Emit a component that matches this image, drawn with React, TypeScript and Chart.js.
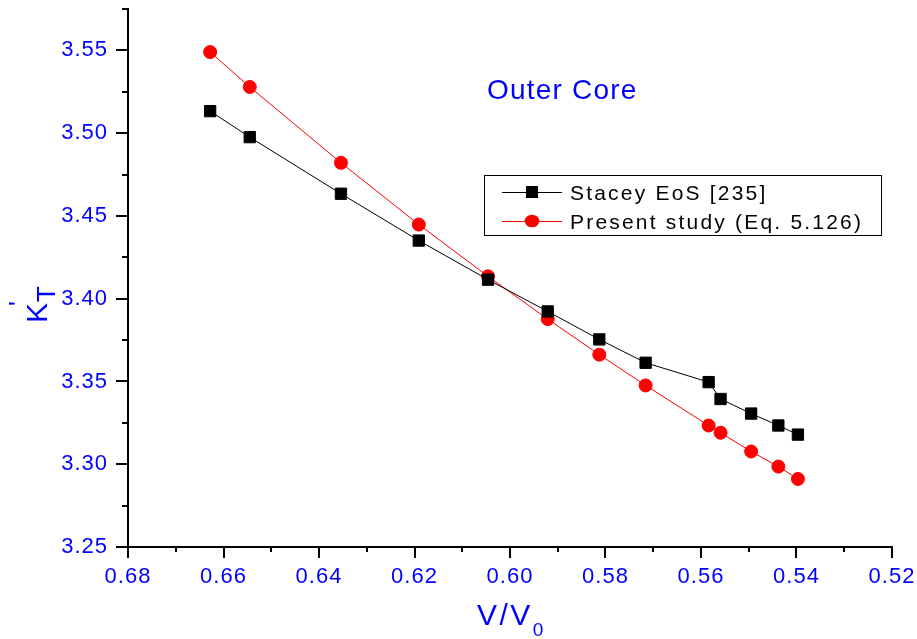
import React, { useEffect, useRef } from 'react';
import { Chart, registerables } from 'chart.js';

Chart.register(...registerables);

// ---- data ----
const X_VALUES = [0.6628, 0.6545, 0.6354, 0.6191, 0.6046, 0.5921, 0.5813, 0.5716, 0.5584, 0.5559, 0.5495, 0.5438, 0.5397];
const STACEY_EOS = [3.5133, 3.4976, 3.4634, 3.4351, 3.4115, 3.3923, 3.3754, 3.3613, 3.3496, 3.3394, 3.3306, 3.3234, 3.3179];
const PRESENT_STUDY = [3.549, 3.5279, 3.4821, 3.4448, 3.4135, 3.3877, 3.3662, 3.3476, 3.3234, 3.319, 3.3077, 3.2986, 3.2911];
const SERIES_LABELS = ['Stacey EoS [235]', 'Present study (Eq. 5.126)'];
const X_TICKS = [0.68, 0.66, 0.64, 0.62, 0.6, 0.58, 0.56, 0.54, 0.52];
const Y_TICKS = [3.25, 3.3, 3.35, 3.4, 3.45, 3.5, 3.55];
const X_MIN = 0.52;
const X_MAX = 0.68;
const Y_MIN = 3.25;
const Y_MAX = 3.575;
const ANNOTATION_TEXT = 'Outer Core';
const X_TITLE = 'V/V';
const X_TITLE_SUB = '0';
const Y_TITLE = 'K';
const Y_TITLE_SUB = 'T';
const Y_TITLE_SUP = "'";

const FONT = "'Liberation Sans', Arial, sans-serif";
const BLUE = '#0000ff';

const decorPlugin = {
  id: 'decor',
  beforeDraw(chart: any) {
    const ctx = chart.ctx;
    ctx.letterSpacing = '1px';
  },
  afterDraw(chart: any) {
    const ctx = chart.ctx as CanvasRenderingContext2D;
    const xs = chart.scales.x;
    const ys = chart.scales.y;
    const area = chart.chartArea;
    ctx.save();
    // tick marks (major + minor)
    ctx.strokeStyle = '#000';
    ctx.lineWidth = 2;
    ctx.beginPath();
    const nx = Math.round((X_MAX - X_MIN) / 0.01);
    for (let i = 0; i <= nx; i++) {
      const v = X_MIN + i * 0.01;
      const px = Math.round(xs.getPixelForValue(v));
      const len = i % 2 === 0 ? 11 : 5;
      ctx.moveTo(px, area.bottom);
      ctx.lineTo(px, area.bottom + len);
    }
    const ny = Math.round((Y_MAX - Y_MIN) / 0.025);
    for (let i = 0; i <= ny; i++) {
      const v = Y_MIN + i * 0.025;
      const py = Math.round(ys.getPixelForValue(v));
      const len = i % 2 === 0 ? 12 : 6;
      ctx.moveTo(area.left - len, py);
      ctx.lineTo(area.left, py);
    }
    ctx.stroke();

    // annotation
    ctx.fillStyle = BLUE;
    ctx.textBaseline = 'alphabetic';
    ctx.textAlign = 'left';
    ctx.font = `28px ${FONT}`;
    (ctx as any).letterSpacing = '1.2px';
    ctx.fillText(ANNOTATION_TEXT, 487, 99);

    // x title
    ctx.font = `30px ${FONT}`;
    (ctx as any).letterSpacing = '2.5px';
    ctx.fillText(X_TITLE, 477, 625);
    const w = ctx.measureText(X_TITLE).width;
    ctx.font = `19px ${FONT}`;
    (ctx as any).letterSpacing = '0px';
    ctx.fillText(X_TITLE_SUB, 477 + w, 636);

    // y title (rotated)
    ctx.save();
    ctx.rotate(-Math.PI / 2);
    ctx.font = `30px ${FONT}`;
    ctx.fillText(Y_TITLE, -323, 47);
    ctx.font = `26px ${FONT}`;
    ctx.fillText(Y_TITLE_SUB, -302, 55);
    ctx.fillText(Y_TITLE_SUP, -306, 27);
    ctx.restore();

    // legend
    const lx = 484, ly = 175, lw = 397, lh = 60;
    ctx.strokeStyle = '#000';
    ctx.lineWidth = 1;
    ctx.strokeRect(lx + 0.5, ly + 0.5, lw, lh);
    const rows = [192, 221];
    chart.data.datasets.forEach((ds: any, i: number) => {
      const cy = rows[i];
      ctx.strokeStyle = ds.borderColor;
      ctx.lineWidth = 1;
      ctx.beginPath();
      ctx.moveTo(502, cy + 0.5);
      ctx.lineTo(562, cy + 0.5);
      ctx.stroke();
      ctx.fillStyle = ds.pointBackgroundColor;
      if (ds.pointStyle === 'rect') {
        ctx.fillRect(526, cy - 6, 12, 12);
      } else {
        ctx.beginPath();
        ctx.ellipse(532, cy, 7.3, 6.3, 0, 0, Math.PI * 2);
        ctx.fill();
      }
      ctx.fillStyle = '#000';
      ctx.font = `21px ${FONT}`;
      (ctx as any).letterSpacing = '2.2px';
      ctx.fillText(ds.label, 570, cy + 7.5);
    });
    ctx.restore();
  },
};

export default function App() {
  const ref = useRef<HTMLCanvasElement | null>(null);
  useEffect(() => {
    if (!ref.current) return;
    const chart = new Chart(ref.current, {
      type: 'line',
      data: {
        datasets: [
          {
            label: SERIES_LABELS[0],
            data: X_VALUES.map((x, i) => ({ x, y: STACEY_EOS[i] })),
            borderColor: '#000000',
            backgroundColor: '#000000',
            pointBackgroundColor: '#000000',
            pointBorderColor: '#000000',
            pointStyle: 'rect',
            pointRadius: 8,
            pointBorderWidth: 1,
            borderWidth: 1,
            tension: 0,
          },
          {
            label: SERIES_LABELS[1],
            data: X_VALUES.map((x, i) => ({ x, y: PRESENT_STUDY[i] })),
            borderColor: '#ff0000',
            backgroundColor: '#ff0000',
            pointBackgroundColor: '#ff0000',
            pointBorderColor: '#ff0000',
            pointStyle: 'circle',
            pointRadius: 6.5,
            pointBorderWidth: 1,
            borderWidth: 1,
            tension: 0,
          },
        ],
      },
      options: {
        animation: false,
        responsive: false,
        devicePixelRatio: 1,
        layout: { padding: { left: 0, top: 9, right: 25, bottom: 0 } },
        plugins: { legend: { display: false }, tooltip: { enabled: false } },
        scales: {
          x: {
            type: 'linear',
            reverse: true,
            min: X_MIN,
            max: X_MAX,
            afterBuildTicks: (scale: any) => {
              scale.ticks = X_TICKS.map((v) => ({ value: v }));
            },
            afterFit: (scale: any) => {
              scale.height = 92;
              scale.paddingLeft = 0;
              scale.paddingRight = 0;
            },
            grid: { display: false, drawTicks: true, tickLength: 11 },
            border: { display: true, color: '#000', width: 2 },
            ticks: {
              autoSkip: false,
              maxRotation: 0,
              padding: 6,
              color: BLUE,
              font: { family: FONT, size: 22 },
              callback: (v: any) => Number(v).toFixed(2),
            },
          },
          y: {
            type: 'linear',
            min: Y_MIN,
            max: Y_MAX,
            afterBuildTicks: (scale: any) => {
              scale.ticks = Y_TICKS.map((v) => ({ value: v }));
            },
            afterFit: (scale: any) => {
              scale.width = 128;
              scale.paddingTop = 0;
              scale.paddingBottom = 0;
            },
            grid: { display: false, drawTicks: true, tickLength: 12 },
            border: { display: true, color: '#000', width: 2 },
            ticks: {
              autoSkip: false,
              padding: 8,
              color: BLUE,
              font: { family: FONT, size: 22 },
              callback: (v: any) => Number(v).toFixed(2),
            },
          },
        },
      },
      plugins: [decorPlugin],
    } as any);
    return () => chart.destroy();
  }, []);
  return (
    <div style={{ position: 'absolute', left: 0, top: 0, width: 917, height: 639, background: '#fff' }}>
      <canvas ref={ref} width={917} height={639} style={{ display: 'block' }} />
    </div>
  );
}
